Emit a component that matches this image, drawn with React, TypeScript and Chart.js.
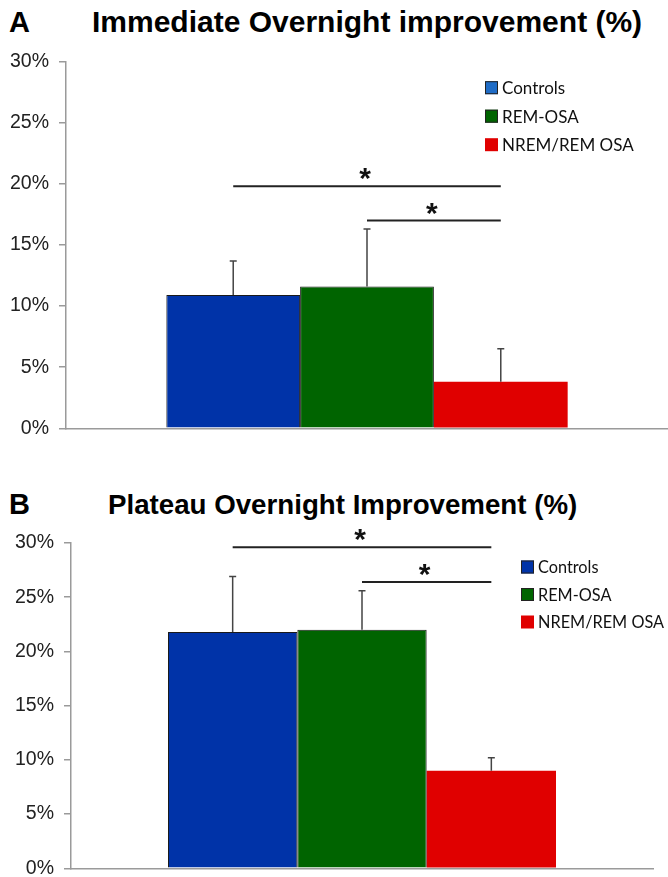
import React, { useEffect, useRef } from "react";
import { Chart, registerables } from "chart.js";

Chart.register(...registerables);

// ---- Data ----
const groups = ["Controls", "REM-OSA", "NREM/REM OSA"];
const barColors = ["#0033a8", "#006400", "#e00000"];
const legendColorsA = ["#1f6cc6", "#006400", "#e00000"];
const legendColorsB = ["#0033a8", "#006400", "#e00000"];
const borderColors = ["#1a1a1a", "#1a1a1a", "#e00000"];
const borderWidths = [1, 1, 0];

const yTicks = [0, 5, 10, 15, 20, 25, 30];

const immediateMeans = [10.9, 11.6, 3.8];
const immediateErrTops = [13.7, 16.3, 6.5];
const immediateSigFrom = [0, 1];
const immediateSigTo = [2, 2];
const immediateSigLevel = [19.8, 17.0];

const plateauMeans = [21.8, 22.0, 9.0];
const plateauErrTops = [26.9, 25.6, 10.2];
const plateauSigFrom = [0, 1];
const plateauSigTo = [2, 2];
const plateauSigLevel = [29.6, 26.4];

type PanelOpts = {
  means: number[];
  errTops: number[];
  sigFrom: number[];
  sigTo: number[];
  sigLevel: number[];
  legendColors: string[];
  yWidth: number;
  padding: { top: number; bottom: number; left: number; right: number };
  legendX: number;
  legendY: number;
  legendGap: number;
  legendFont: number;
  width: number;
  height: number;
};

const overlayPlugin = (p: PanelOpts) => ({
  id: "overlay",
  afterDatasetsDraw(chart: any) {
    const ctx = chart.ctx;
    const y = chart.scales.y;
    const area = chart.chartArea;
    const centers: number[] = [];
    chart.data.datasets.forEach((ds: any, i: number) => {
      const meta = chart.getDatasetMeta(i);
      const bar = meta.data[0];
      centers.push(bar.x);
      // error bar
      const top = y.getPixelForValue(p.errTops[i]);
      const base = y.getPixelForValue(p.means[i]);
      ctx.save();
      ctx.strokeStyle = "#444";
      ctx.lineWidth = 1.5;
      ctx.beginPath();
      ctx.moveTo(bar.x, base);
      ctx.lineTo(bar.x, top);
      ctx.moveTo(bar.x - 3.5, top);
      ctx.lineTo(bar.x + 3.5, top);
      ctx.stroke();
      ctx.restore();
    });
    // significance lines
    p.sigLevel.forEach((lvl, k) => {
      const yy = y.getPixelForValue(lvl);
      const x1 = centers[p.sigFrom[k]];
      const x2 = centers[p.sigTo[k]];
      ctx.save();
      ctx.strokeStyle = "#222";
      ctx.lineWidth = 2;
      ctx.beginPath();
      ctx.moveTo(x1, yy);
      ctx.lineTo(x2, yy);
      ctx.stroke();
      ctx.fillStyle = "#111";
      ctx.font = "bold 30px 'Liberation Sans', Arial, sans-serif";
      ctx.textAlign = "center";
      ctx.textBaseline = "alphabetic";
      ctx.fillText("*", (x1 + x2) / 2 - 2, yy + 2);
      ctx.restore();
    });
    // legend
    ctx.save();
    chart.data.datasets.forEach((ds: any, i: number) => {
      const lx = area.left + p.legendX;
      const ly = area.top + p.legendY + i * p.legendGap;
      ctx.fillStyle = p.legendColors[i];
      ctx.fillRect(lx, ly - 6.5, 13, 13);
      if (i < 2) {
        ctx.strokeStyle = "#222";
        ctx.lineWidth = 1;
        ctx.strokeRect(lx + 0.5, ly - 6, 12, 12);
      }
      ctx.fillStyle = "#111";
      ctx.font = `${p.legendFont}px Lato, 'Open Sans', sans-serif`;
      ctx.textAlign = "left";
      ctx.textBaseline = "middle";
      ctx.fillText(ds.label, lx + 17, ly + 1);
    });
    ctx.restore();
  },
});

function Panel(props: PanelOpts & { style: React.CSSProperties }) {
  const ref = useRef<HTMLCanvasElement>(null);
  useEffect(() => {
    if (!ref.current) return;
    const p = props;
    const chart = new Chart(ref.current, {
      type: "bar",
      data: {
        labels: [""],
        datasets: groups.map((g, i) => ({
          label: g,
          data: [p.means[i]],
          backgroundColor: barColors[i],
          borderColor: borderColors[i],
          borderWidth: borderWidths[i],
          barPercentage: 1,
          categoryPercentage: 2 / 3,
        })),
      },
      options: {
        animation: false,
        responsive: false,
        layout: { padding: p.padding },
        plugins: { legend: { display: false }, tooltip: { enabled: false } },
        scales: {
          x: {
            grid: { display: false, drawTicks: false },
            ticks: { display: false },
            border: { display: true, color: "#9a9a9a", width: 1.5 },
            afterFit: (s: any) => {
              s.height = 0;
            },
          },
          y: {
            min: 0,
            max: 30,
            afterBuildTicks: (s: any) => {
              s.ticks = yTicks.map((v) => ({ value: v }));
            },
            ticks: {
              callback: (v: any) => v + "%",
              color: "#222",
              font: { family: "'Liberation Sans', Arial, sans-serif", size: 19.5 },
              padding: 10,
            },
            grid: { drawOnChartArea: false, tickLength: 7, color: "#9a9a9a", lineWidth: 1.5 },
            border: { display: true, color: "#9a9a9a", width: 1.5 },
            afterFit: (s: any) => {
              s.width = p.yWidth;
            },
          },
        },
      } as any,
      plugins: [overlayPlugin(p)],
    });
    return () => chart.destroy();
  }, []);
  return (
    <canvas
      ref={ref}
      width={props.width}
      height={props.height}
      style={{ ...props.style, width: props.width, height: props.height }}
    />
  );
}

const titleFont = "'Liberation Sans', Arial, Helvetica, sans-serif";

export default function App() {
  return (
    <div
      style={{
        position: "fixed",
        left: 0,
        top: 0,
        width: 668,
        height: 877,
        overflow: "hidden",
        background: "#fff",
      }}
    >
      <div style={{ position: "absolute", left: 9, top: 7, fontFamily: titleFont, fontWeight: "bold", fontSize: 29, lineHeight: "30px", color: "#000" }}>A</div>
      <div style={{ position: "absolute", left: 92, top: 7, fontFamily: titleFont, fontWeight: "bold", fontSize: 30, lineHeight: "30px", color: "#000", whiteSpace: "nowrap" }}>
        Immediate Overnight improvement (%)
      </div>
      <Panel
        style={{ position: "absolute", left: 0, top: 40 }}
        width={668}
        height={410}
        means={immediateMeans}
        errTops={immediateErrTops}
        sigFrom={immediateSigFrom}
        sigTo={immediateSigTo}
        sigLevel={immediateSigLevel}
        legendColors={legendColorsA}
        yWidth={66}
        padding={{ top: 19, bottom: 21, left: 0, right: 0 }}
        legendX={419}
        legendY={26}
        legendGap={28.5}
        legendFont={17}
      />
      <div style={{ position: "absolute", left: 9, top: 489, fontFamily: titleFont, fontWeight: "bold", fontSize: 29, lineHeight: "30px", color: "#000" }}>B</div>
      <div style={{ position: "absolute", left: 108, top: 490, fontFamily: titleFont, fontWeight: "bold", fontSize: 27.7, lineHeight: "30px", color: "#000", whiteSpace: "nowrap" }}>
        Plateau Overnight Improvement (%)
      </div>
      <Panel
        style={{ position: "absolute", left: 0, top: 520 }}
        width={668}
        height={370}
        means={plateauMeans}
        errTops={plateauErrTops}
        sigFrom={plateauSigFrom}
        sigTo={plateauSigTo}
        sigLevel={plateauSigLevel}
        legendColors={legendColorsB}
        yWidth={71}
        padding={{ top: 23, bottom: 19, left: 0, right: 15 }}
        legendX={450}
        legendY={24}
        legendGap={27.5}
        legendFont={16.3}
      />
    </div>
  );
}
